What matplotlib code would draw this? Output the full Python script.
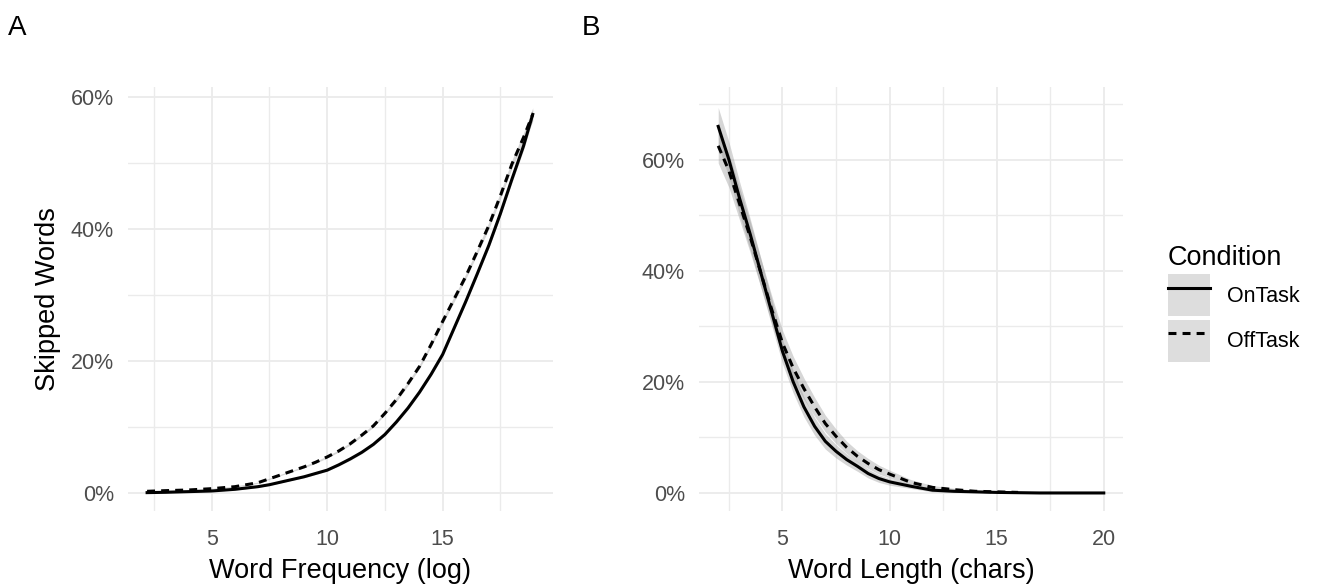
import matplotlib
matplotlib.use("Agg")
import matplotlib.pyplot as plt
from matplotlib.ticker import PercentFormatter
from matplotlib.patches import Patch
from matplotlib.lines import Line2D
from matplotlib.legend_handler import HandlerTuple

plt.rcParams['font.family'] = ['Liberation Sans', 'DejaVu Sans']

# Panel A: skipped words (%) by word frequency (log)
freq_x = [2.2, 3, 4, 5, 6, 6.5, 7, 7.5, 8, 8.5, 9, 9.5, 10, 10.5, 11, 11.5, 12, 12.5,
          13, 13.5, 14, 14.5, 15, 15.5, 16, 16.5, 17, 17.5, 18, 18.5, 18.9]
freq_on = [0.1, 0.15, 0.25, 0.35, 0.6, 0.8, 1.0, 1.3, 1.7, 2.1, 2.5, 3.0, 3.5, 4.3, 5.2, 6.2, 7.4, 8.9,
           10.8, 12.9, 15.3, 18.0, 21.0, 25.0, 29.0, 33.2, 37.5, 42.3, 47.5, 52.5, 57.3]
freq_on_ci = [0.05, 0.05, 0.05, 0.05, 0.1, 0.1, 0.1, 0.1, 0.1, 0.1, 0.15, 0.15, 0.15, 0.15, 0.2, 0.2, 0.2, 0.2,
              0.25, 0.25, 0.25, 0.25, 0.3, 0.3, 0.3, 0.3, 0.4, 0.4, 0.5, 0.6, 0.8]
freq_off = [0.3, 0.4, 0.5, 0.7, 1.0, 1.3, 1.6, 2.2, 2.8, 3.4, 4.0, 4.7, 5.5, 6.4, 7.5, 8.8, 10.2, 12.1,
            14.2, 16.6, 19.2, 22.5, 26.0, 29.4, 32.8, 36.6, 40.5, 45.0, 49.8, 53.8, 57.3]
freq_off_ci = [0.05, 0.05, 0.05, 0.05, 0.1, 0.1, 0.1, 0.1, 0.1, 0.1, 0.15, 0.15, 0.15, 0.15, 0.2, 0.2, 0.2, 0.2,
               0.3, 0.3, 0.3, 0.3, 0.4, 0.4, 0.4, 0.4, 0.5, 0.5, 0.6, 0.7, 1.0]

# Panel B: skipped words (%) by word length (chars)
len_on_x = [2, 2.5, 3, 3.5, 4, 4.5, 5, 5.5, 6, 6.5, 7, 7.5, 8, 8.5, 9, 9.5, 10,
            11, 12, 13, 14, 15, 16, 17, 18, 19, 20]
len_on = [66.0, 60.0, 53.0, 46.5, 39.5, 32.5, 25.5, 20.0, 15.5, 12.0, 9.3, 7.5, 6.0, 4.8, 3.5, 2.6, 2.0,
          1.2, 0.5, 0.3, 0.2, 0.1, 0.05, 0.0, 0.0, 0.0, 0.0]
len_on_ci = [3.4, 3.2, 3.0, 2.8, 2.6, 2.4, 2.2, 2.0, 1.8, 1.6, 1.4, 1.2, 1.0, 0.9, 0.8, 0.7, 0.6,
             0.4, 0.3, 0.2, 0.15, 0.1, 0.1, 0.1, 0.1, 0.1, 0.1]
len_off_x = [2, 2.5, 3, 3.5, 4, 4.5, 5, 5.5, 6, 6.5, 7, 7.5, 8, 8.5, 9, 9.5, 10,
             11, 12, 13, 14, 15, 16]
len_off = [62.5, 58.0, 52.0, 46.0, 39.5, 33.0, 27.0, 22.5, 18.8, 15.5, 12.5, 10.2, 8.2, 6.6, 5.3, 4.2, 3.4,
           1.9, 1.0, 0.6, 0.3, 0.2, 0.1]
len_off_ci = [3.1, 3.0, 2.9, 2.8, 2.6, 2.5, 2.3, 2.1, 1.9, 1.7, 1.5, 1.3, 1.1, 1.0, 0.9, 0.8, 0.7,
              0.5, 0.35, 0.25, 0.2, 0.15, 0.1]

conditions = ["OnTask", "OffTask"]

LW = 2.2
DASH = (2.6, 2.0)
TICK_COL = "#4d4d4d"
GRID_COL = "#ebebeb"


def band(ax, x, y, ci):
    lo = [a - b for a, b in zip(y, ci)]
    hi = [a + b for a, b in zip(y, ci)]
    ax.fill_between(x, lo, hi, color="#999999", alpha=0.4, lw=0, zorder=2)


def style(ax, xmaj, xmin, ymaj, ymin):
    for s in ax.spines.values():
        s.set_visible(False)
    ax.set_xticks(xmaj)
    ax.set_xticks(xmin, minor=True)
    ax.set_yticks(ymaj)
    ax.set_yticks(ymin, minor=True)
    ax.yaxis.set_major_formatter(PercentFormatter(xmax=100, decimals=0))
    ax.tick_params(which="both", length=0, labelsize=15.5, colors=TICK_COL)
    ax.tick_params(axis="y", pad=10)
    ax.tick_params(axis="x", pad=13)
    ax.grid(True, which="major", color=GRID_COL, lw=1.3, zorder=0)
    ax.grid(True, which="minor", color=GRID_COL, lw=1.0, zorder=0)
    ax.set_axisbelow(True)


fig = plt.figure(figsize=(13.22, 5.88), dpi=100)
axA = fig.add_axes([0.0966, 0.1315, 0.3219, 0.7211])
axB = fig.add_axes([0.5287, 0.1315, 0.3208, 0.7211])

# panel A
band(axA, freq_x, freq_on, freq_on_ci)
band(axA, freq_x, freq_off, freq_off_ci)
axA.plot(freq_x, freq_on, color="black", lw=LW, zorder=3)
axA.plot(freq_x, freq_off, color="black", lw=LW, ls=(0, DASH), zorder=3)
axA.set_xlim(1.36, 19.79)
axA.set_ylim(-2.63, 61.5)
style(axA, [5, 10, 15], [2.5, 7.5, 12.5, 17.5], [0, 20, 40, 60], [10, 30, 50])
axA.set_xlabel("Word Frequency (log)", fontsize=19.5, labelpad=6)
axA.set_ylabel("Skipped Words", fontsize=19.5, labelpad=7)

# panel B
band(axB, len_on_x, len_on, len_on_ci)
band(axB, len_off_x, len_off, len_off_ci)
axB.plot(len_on_x, len_on, color="black", lw=LW, zorder=3)
axB.plot(len_off_x, len_off, color="black", lw=LW, ls=(0, DASH), zorder=3)
axB.set_xlim(1.1, 20.9)
axB.set_ylim(-3.19, 73.15)
style(axB, [5, 10, 15, 20], [2.5, 7.5, 12.5, 17.5], [0, 20, 40, 60], [10, 30, 50, 70])
axB.set_xlabel("Word Length (chars)", fontsize=19.5, labelpad=6)

fig.text(0.006, 0.952, "A", fontsize=20, ha="left", va="center")
fig.text(0.440, 0.952, "B", fontsize=20, ha="left", va="center")

# legend
handles = []
for i, c in enumerate(conditions):
    p = Patch(facecolor="#999999", alpha=0.33, edgecolor="none")
    ln = Line2D([], [], color="black", lw=LW, ls="-" if i == 0 else (0, DASH))
    handles.append((p, ln))
leg = fig.legend(handles, conditions, handler_map={tuple: HandlerTuple(ndivide=1, pad=0)},
                 loc="center left", bbox_to_anchor=(0.877, 0.484), frameon=False,
                 title="Condition", title_fontsize=19.5, fontsize=15.5,
                 handlelength=1.95, handleheight=2.63, labelspacing=0.15,
                 handletextpad=0.8, borderaxespad=0)
leg._legend_box.align = "left"

fig.savefig("out.png", dpi=100)
